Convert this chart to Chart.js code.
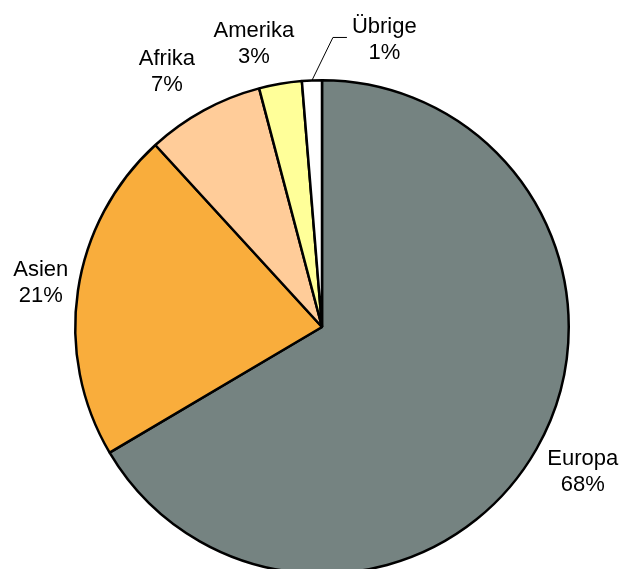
<!DOCTYPE html>
<html>
<head>
<meta charset="utf-8">
<script src="https://cdn.jsdelivr.net/npm/chart.js@4.4.1/dist/chart.umd.min.js"></script>
<style>
  html, body { margin: 0; padding: 0; background: #fff; overflow: hidden; }
  canvas { display: block; }
</style>
</head>
<body>
<canvas id="kontinente" width="619" height="600"></canvas>
<script>
const regionen = ['Europa', 'Asien', 'Afrika', 'Amerika', 'Übrige'];
const anteile = [66.5, 21.7, 7.7, 2.8, 1.3];
const prozentText = ['68%', '21%', '7%', '3%', '1%'];
const farben = ['#758381', '#F9AD3C', '#FFCC99', '#FFFF99', '#FFFFFF'];

// label placement: distance from pie edge + small nudge (x, y), per slice
const labelAbstand = [18, 10, 28, 22];
const labelNudge = [[0, 2], [0, -3], [-10, 6], [-16, 4], [0, 1]];

const labelPlugin = {
  id: 'labelPlugin',
  afterDraw(chart) {
    const ctx = chart.ctx;
    const meta = chart.getDatasetMeta(0);
    const lh = 26;
    ctx.save();
    ctx.font = '22px "Liberation Sans", Arial, sans-serif';
    ctx.fillStyle = '#000';
    ctx.textAlign = 'center';
    ctx.textBaseline = 'middle';

    meta.data.forEach((arc, i) => {
      const p = arc.getProps(['x', 'y', 'startAngle', 'endAngle', 'outerRadius'], true);
      const mid = (p.startAngle + p.endAngle) / 2;
      const c = Math.cos(mid), s = Math.sin(mid);
      const w = Math.max(ctx.measureText(regionen[i]).width, ctx.measureText(prozentText[i]).width);
      const h = 46;
      let cx, cy;

      if (i === labelAbstand.length) {
        // small slice: label with leader line
        const ex = p.x + p.outerRadius * c;
        const ey = p.y + p.outerRadius * s;
        const kx = ex + 21, ky = ey - 43;
        ctx.strokeStyle = '#000';
        ctx.lineWidth = 1;
        ctx.beginPath();
        ctx.moveTo(ex, ey);
        ctx.lineTo(kx, ky);
        ctx.lineTo(kx + 14, ky);
        ctx.stroke();
        cx = kx + 14 + 5 + w / 2;
        cy = ky + 1;
      } else {
        const d = p.outerRadius + labelAbstand[i];
        cx = p.x + d * c + (w / 2) * c;
        cy = p.y + d * s + (h / 2) * s;
      }
      cx += labelNudge[i][0];
      cy += labelNudge[i][1];

      ctx.fillText(regionen[i], cx, cy - lh / 2);
      ctx.fillText(prozentText[i], cx, cy + lh / 2);
    });
    ctx.restore();
  }
};

new Chart(document.getElementById('kontinente'), {
  type: 'pie',
  data: {
    labels: regionen,
    datasets: [{
      data: anteile,
      backgroundColor: farben,
      borderColor: '#000',
      borderWidth: 2.5
    }]
  },
  options: {
    responsive: false,
    animation: false,
    layout: {
      padding: { left: 74, right: 49, top: 79, bottom: 25 }
    },
    plugins: {
      legend: { display: false },
      tooltip: { enabled: false }
    }
  },
  plugins: [labelPlugin]
});
</script>
</body>
</html>
